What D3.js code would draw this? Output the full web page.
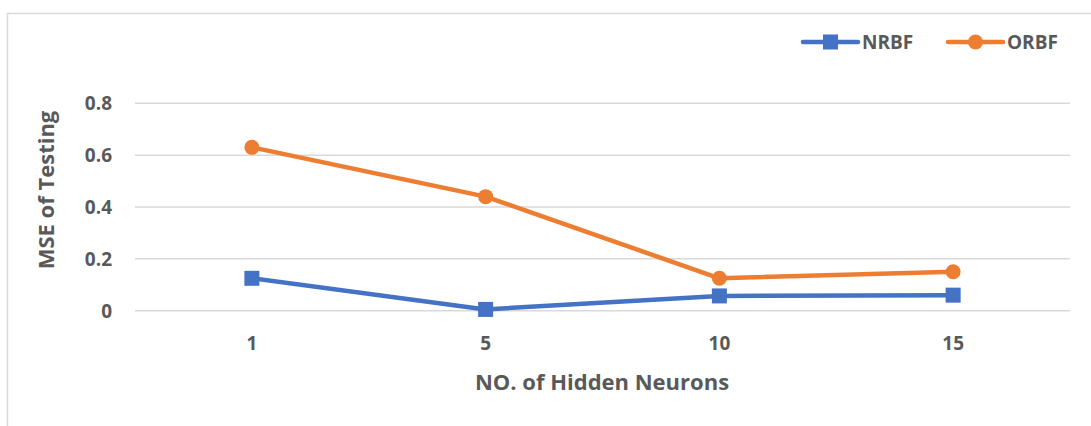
<!DOCTYPE html>
<html><head><meta charset="utf-8">
<script src="https://cdn.jsdelivr.net/npm/d3@7"></script>
<style>html,body{margin:0;padding:0;background:#fff;}</style>
</head><body>
<svg id="chart" width="1091" height="426"></svg>
<script>
const categories = ["1", "5", "10", "15"];
const nrbf = [0.125, 0.005, 0.057, 0.06];
const orbf = [0.63, 0.44, 0.125, 0.15];
const yTicks = [0, 0.2, 0.4, 0.6, 0.8];
const seriesNames = ["NRBF", "ORBF"];
const colors = ["#4472C4", "#ED7D31"];

const svg = d3.select("#chart");
const font = "'Open Sans', Lato, sans-serif";
const textColor = "#595959";

// frame
svg.append("path").attr("d", "M7.5,426 V13.5 H1091").attr("fill", "none").attr("stroke", "#d9d9d9").attr("stroke-width", 1.5);

const x = d3.scaleBand().domain(categories).range([135, 1070]);
const y = d3.scaleLinear().domain([0, 0.8]).range([310.7, 103.3]);

// grid
svg.append("g").selectAll("line").data(yTicks).join("line")
  .attr("x1", 135).attr("x2", 1070)
  .attr("y1", d => y(d)).attr("y2", d => y(d))
  .attr("stroke", "#d9d9d9").attr("stroke-width", 1.5);

// y axis labels
const yAxis = d3.axisLeft(y).tickValues(yTicks).tickFormat(d => d === 0 ? "0" : d3.format(".1f")(d)).tickSize(0).tickPadding(0);
const ya = svg.append("g").attr("transform", "translate(112,0)").call(yAxis);
ya.select(".domain").remove();
ya.selectAll("text").attr("font-family", font).attr("font-weight", "bold").attr("font-size", 19).attr("fill", textColor).attr("dy", "0.35em");

// x axis labels
const xAxis = d3.axisBottom(x).tickSize(0).tickPadding(0);
const xa = svg.append("g").attr("transform", "translate(0,343)").call(xAxis);
xa.select(".domain").remove();
xa.selectAll("text").attr("font-family", font).attr("font-weight", "bold").attr("font-size", 19).attr("fill", textColor).attr("dy", "0.35em");

// axis titles
svg.append("text").attr("x", 602).attr("y", 382).attr("dy", "0.35em").attr("text-anchor", "middle")
  .attr("font-family", font).attr("font-weight", "bold").attr("font-size", 22).attr("fill", textColor)
  .text("NO. of Hidden Neurons");
svg.append("text").attr("transform", "translate(46,190) rotate(-90)").attr("dy", "0.35em").attr("text-anchor", "middle")
  .attr("font-family", font).attr("font-weight", "bold").attr("font-size", 22).attr("fill", textColor)
  .text("MSE of Testing");

const cx = d => x(d) + x.bandwidth() / 2;
const line = d3.line().x(d => cx(d.c)).y(d => y(d.v));
const series = [nrbf, orbf].map((vals, i) => vals.map((v, j) => ({c: categories[j], v})));

series.forEach((s, i) => {
  svg.append("path").datum(s).attr("d", line).attr("fill", "none")
    .attr("stroke", colors[i]).attr("stroke-width", 4.5).attr("stroke-linejoin", "round").attr("stroke-linecap", "round");
  if (i === 0) {
    svg.append("g").selectAll("rect").data(s).join("rect")
      .attr("x", d => cx(d.c) - 7.5).attr("y", d => y(d.v) - 7.5).attr("width", 15).attr("height", 15).attr("fill", colors[i]);
  } else {
    svg.append("g").selectAll("circle").data(s).join("circle")
      .attr("cx", d => cx(d.c)).attr("cy", d => y(d.v)).attr("r", 7.5).attr("fill", colors[i]);
  }
});

// legend
const legend = [{x: 803, name: seriesNames[0]}, {x: 948, name: seriesNames[1]}];
legend.forEach((l, i) => {
  const ly = 42;
  svg.append("line").attr("x1", l.x).attr("x2", l.x + 55).attr("y1", ly).attr("y2", ly)
    .attr("stroke", colors[i]).attr("stroke-width", 4.5).attr("stroke-linecap", "round");
  if (i === 0) svg.append("rect").attr("x", l.x + 27.5 - 7.5).attr("y", ly - 7.5).attr("width", 15).attr("height", 15).attr("fill", colors[i]);
  else svg.append("circle").attr("cx", l.x + 27.5).attr("cy", ly).attr("r", 7.5).attr("fill", colors[i]);
  svg.append("text").attr("x", l.x + 59).attr("y", ly).attr("dy", "0.35em")
    .attr("font-family", font).attr("font-weight", "bold").attr("font-size", 19).attr("fill", textColor).text(l.name);
});
</script>
</body></html>
